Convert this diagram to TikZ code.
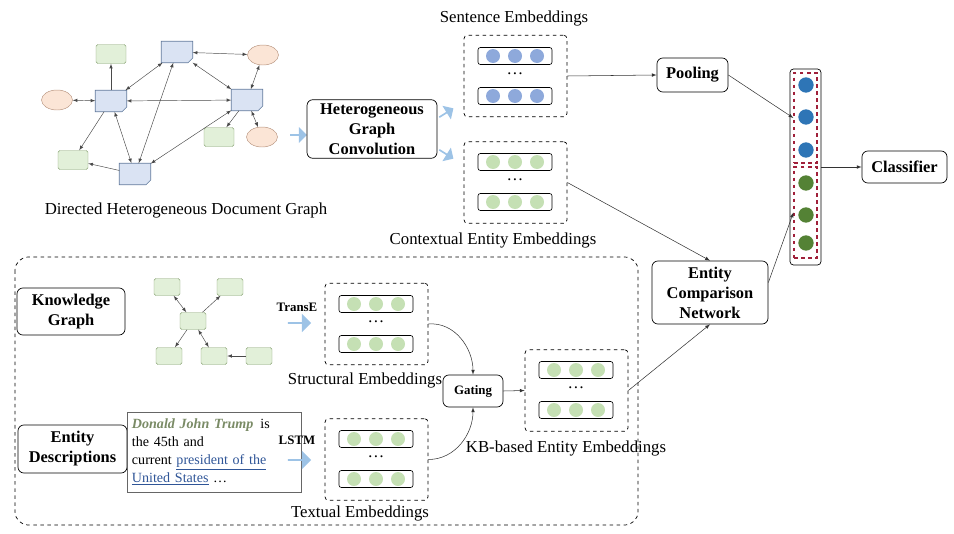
\documentclass[tikz,border=0pt]{standalone}
\usepackage{fontspec}
\setmainfont{Liberation Serif}
\usepackage{tikz}
\usetikzlibrary{shapes}
\usetikzlibrary{shapes.arrows}
\usetikzlibrary{arrows}

\definecolor{grfill}{HTML}{E2F0D9}
\definecolor{grline}{HTML}{86A071}
\definecolor{docfill}{HTML}{DAE3F3}
\definecolor{docline}{HTML}{5F789C}
\definecolor{ovfill}{HTML}{FBE5D6}
\definecolor{ovline}{HTML}{B89580}
\definecolor{fatblue}{HTML}{9DC3E6}
\definecolor{sentblue}{HTML}{8EA9DB}
\definecolor{entgreen}{HTML}{C5E0B4}
\definecolor{vecblue}{HTML}{2E75B6}
\definecolor{vecgreen}{HTML}{548235}
\definecolor{vecred}{HTML}{A0203A}
\definecolor{edgegray}{HTML}{4A4A4A}
\definecolor{namegreen}{HTML}{7A8B66}
\definecolor{linkblue}{HTML}{2F5597}

\tikzset{
  grbox/.style={rectangle, rounded corners=1.5pt, fill=grfill, draw=grline, minimum width=0.9cm, minimum height=0.57cm},
  kgbox/.style={grbox, minimum width=0.78cm, minimum height=0.51cm},
  docbox/.style={rectangle, minimum width=0.93cm, minimum height=0.63cm, inner sep=0pt},
  ovbox/.style={ellipse, fill=ovfill, draw=ovline, minimum width=0.93cm, minimum height=0.6cm},
  gedge/.style={edgegray, line width=0.4pt},
  flow/.style={black!80, line width=0.45pt},
  block/.style={rectangle, rounded corners=5pt, draw=black, line width=0.6pt, align=center, font=\fontsize{14}{17}\selectfont\bfseries},
  fat/.style={single arrow, fill=fatblue, draw=none, minimum height=0.5cm, minimum width=0.48cm, single arrow head extend=0.06cm, inner sep=0pt},
  embbox/.style={rectangle, rounded corners=3pt, draw=black, dashed, line width=0.6pt, minimum width=3.09cm, minimum height=2.45cm},
  rowbox/.style={rounded corners=2pt, draw=black, line width=0.5pt},
  lbl/.style={font=\fontsize{14.3}{16}\selectfont},
  small/.style={font=\fontsize{11}{13}\selectfont\bfseries}
}

\begin{document}
\begin{tikzpicture}[x=0.03cm, y=-0.03cm]

\useasboundingbox (0,0) rectangle (954,533);

%Draw document graph
\node[grbox] (grA) at (111,54) {};
\node[docbox] (docT) at (177,52) {};
\node[ovbox] (ovC) at (263,55) {};
\node[ovbox] (ovD) at (57,100) {};
\node[docbox] (docL) at (111,101) {};
\node[docbox] (docR) at (247,100) {};
\node[grbox] (grG) at (219,137) {};
\node[ovbox] (ovH) at (262,137) {};
\node[grbox] (grI) at (73,160) {};
\node[docbox] (docB) at (135,174) {};

%Draw document shapes
\foreach \d in {docT, docL, docR, docB}
  \filldraw[fill=docfill, draw=docline, line width=0.5pt] (\d.north west) -- (\d.north east) -- ([yshift=4pt]\d.south east) -- ([xshift=-4pt]\d.south east) -- (\d.south west) -- cycle;

\draw[gedge, -latex] (docL) -- (grA);
\draw[gedge, latex-latex] (docL) -- (docT);
\draw[gedge, latex-latex] (docT) -- (ovC);
\draw[gedge, latex-latex] (docT) -- (docR);
\draw[gedge, latex-latex] (docR) -- (ovC);
\draw[gedge, latex-latex] (ovD) -- (docL);
\draw[gedge, latex-latex] (docL) -- (docR);
\draw[gedge, -latex] (docR) -- (grG);
\draw[gedge, latex-latex] (docR) -- (ovH);
\draw[gedge, -latex] (docL) -- (grI);
\draw[gedge, latex-latex] (docL) -- (docB);
\draw[gedge, -latex] (docB) -- (grI);
\draw[gedge, latex-latex] (docB) -- (docT);
\draw[gedge, latex-latex] (docB) -- (docR);

\node[lbl] (dhdg) at (186,210) {Directed Heterogeneous Document Graph};

%Draw convolution
\node[fat] (fat1) at (298,135) {};
\node[block, minimum width=3.9cm, minimum height=1.74cm] (hgc) at (372,129) {Heterogeneous\\Graph\\Convolution};
\node[fat, rotate=32] (fat2) at (446,113) {};
\node[fat, rotate=-32] (fat3) at (446,154) {};

%Draw embedding rows
\foreach \bx/\by/\col in {515/76/sentblue, 515/182/entgreen, 376/324/entgreen, 376/459/entgreen, 576/390/entgreen} {
  \foreach \dy in {-20, 20} {
    \draw[rowbox] (\bx-37, \by+\dy-8.5) rectangle (\bx+37, \by+\dy+8.5);
    \foreach \dx in {-22, 0, 22}
      \fill[\col] (\bx+\dx, \by+\dy) circle (0.21cm);
  }
  \node[lbl] at (\bx, \by-2) {\dots};
}

\node[embbox] (sent) at (515.5,76) {};
\node[embbox] (ctx) at (515.5,182.5) {};
\node[embbox] (struct) at (376.5,324) {};
\node[embbox] (text) at (376.5,459.5) {};
\node[embbox] (kb) at (576.5,390.5) {};

\node[lbl] (sentl) at (514,18) {Sentence Embeddings};
\node[lbl] (ctxl) at (493,240) {Contextual Entity Embeddings};
\node[lbl] (structl) at (365,380) {Structural Embeddings};
\node[lbl] (textl) at (360,513) {Textual Embeddings};
\node[lbl] (kbl) at (566,448) {KB-based Entity Embeddings};

%Draw pooling and classifier
\node[block, minimum width=2.13cm, minimum height=1.02cm] (pool) at (692.5,75) {Pooling};
\node[block, minimum width=2.55cm, minimum height=0.96cm] (cls) at (904.5,167) {Classifier};
\node[block, minimum width=3.48cm, minimum height=1.89cm] (ecn) at (710,292.5) {Entity\\Comparison\\Network};

\node[rectangle, rounded corners=3pt, draw=black, line width=0.6pt, minimum width=0.93cm, minimum height=5.88cm] (vec) at (805.5,167) {};
\node[rectangle, draw=vecred, dashed, line width=1pt, minimum width=0.69cm, minimum height=2.7cm] (vtop) at (805.5,118) {};
\node[rectangle, draw=vecred, dashed, line width=1pt, minimum width=0.69cm, minimum height=2.73cm] (vbot) at (805.5,212.5) {};
\foreach \vy/\col in {85/vecblue, 117/vecblue, 150/vecblue, 183/vecgreen, 215/vecgreen, 243/vecgreen}
  \fill[\col] (806,\vy) circle (0.23cm);

\draw[flow, -latex] (sent.east) -- (pool.west);
\draw[flow, -latex] (pool.east) -- (vtop.west);
\draw[flow, -latex] (vec.east) -- (cls.west);
\draw[flow, -latex] (ctx.east) -- (ecn.north);
\draw[flow, -latex] ([yshift=0.3cm]ecn.east) -- (vbot.west);
\draw[flow, -latex] (kb.east) -- (ecn.south);

%Draw knowledge part
\draw[dashed, line width=0.6pt, rounded corners=0.4cm] (15,257) rectangle (638,525);

\node[block, minimum width=3.24cm, minimum height=1.41cm] (kg) at (71,311.5) {Knowledge\\Graph};
\node[block, minimum width=3.27cm, minimum height=1.44cm] (ed) at (72.5,449) {Entity\\Descriptions};

\node[kgbox] (ka) at (167,287) {};
\node[kgbox] (kbn) at (230,287) {};
\node[kgbox] (kc) at (193,321) {};
\node[kgbox] (kd) at (169,356) {};
\node[kgbox] (ke) at (214,356) {};
\node[kgbox] (kf) at (259,356) {};

\draw[gedge, latex-latex] (kc) -- (ka);
\draw[gedge, -latex] (kc) -- (kbn);
\draw[gedge, -latex] (kc) -- (kd);
\draw[gedge, latex-latex] (kc) -- (ke);
\draw[gedge, -latex] (kf) -- (ke);

\node[rectangle, draw=black!60, line width=0.6pt, minimum width=5.19cm, minimum height=2.4cm, text width=4.95cm, align=left, inner sep=4pt, font=\fontsize{12}{15.3}\selectfont] (desc) at (214.5,452)
  {\textcolor{namegreen}{\textbf{\textit{Donald John Trump}}}\, is\\the 45th and\\current \textcolor{linkblue}{\underline{president of the}}\\\textcolor{linkblue}{\underline{United States}} \dots};

\node[small] (transe) at (297,307) {TransE};
\node[fat, minimum height=0.7cm, minimum width=0.55cm] (fat4) at (299,323) {};
\node[small] (lstm) at (297,440) {LSTM};
\node[fat, minimum height=0.7cm, minimum width=0.55cm] (fat5) at (299,460) {};

\node[block, font=\fontsize{11}{13}\selectfont\bfseries, minimum width=1.8cm, minimum height=0.96cm] (gate) at (473,391) {Gating};

\draw[flow, -latex] (struct.east) to[out=5, in=90] (gate.north);
\draw[flow, -latex] (text.east) to[out=0, in=-90] (gate.south);
\draw[flow, -latex] (gate.east) -- (kb.west);

\end{tikzpicture}
\end{document}
